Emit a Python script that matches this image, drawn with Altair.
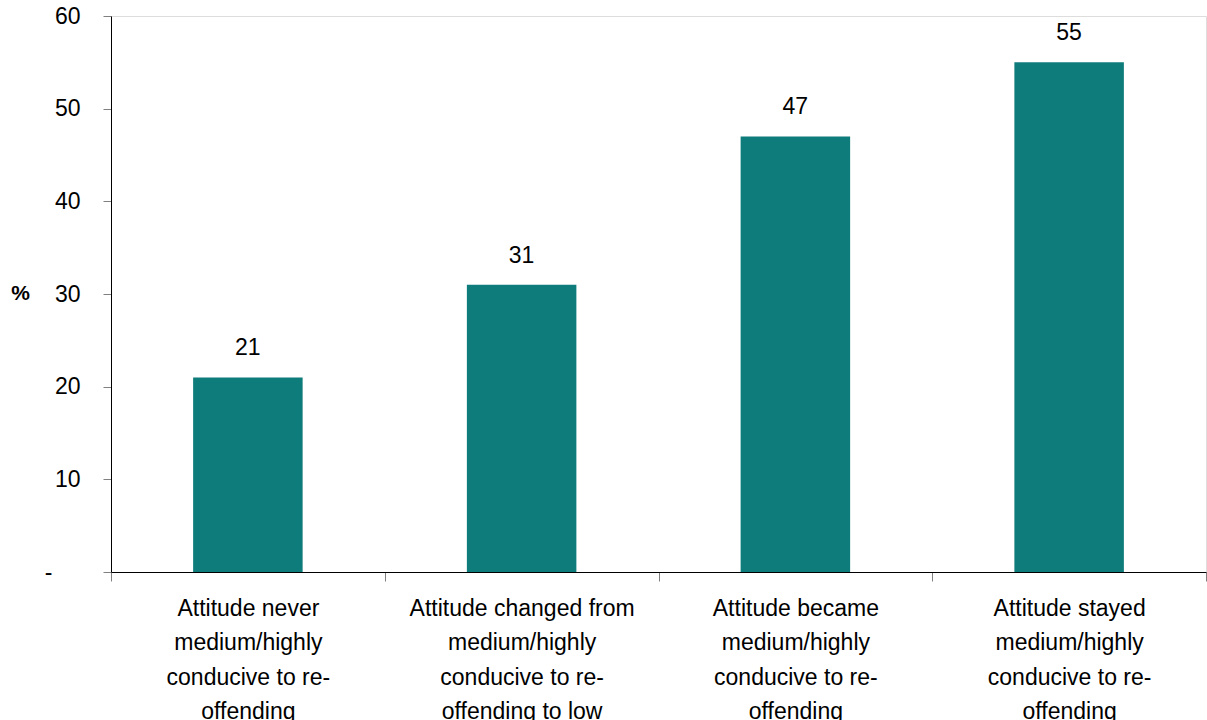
import altair as alt
import pandas as pd

# Category labels, one entry per wrapped line
label_lines = [
    ["Attitude never", "medium/highly", "conducive to re-", "offending"],
    ["Attitude changed from", "medium/highly", "conducive to re-", "offending to low"],
    ["Attitude became", "medium/highly", "conducive to re-", "offending"],
    ["Attitude stayed", "medium/highly", "conducive to re-", "offending"],
]
categories = ["|".join(lines) for lines in label_lines]
values = [21, 31, 47, 55]
y_ticks = [0, 10, 20, 30, 40, 50, 60]

df = pd.DataFrame({"group": categories, "pct": values})

FONT = "Liberation Sans"
TEAL = "#0E7C7B"

x_enc = alt.X(
    "group:N",
    sort=categories,
    scale=alt.Scale(paddingInner=0, paddingOuter=0),
    axis=alt.Axis(
        title=None,
        labelAngle=0,
        labelExpr="split(datum.label, '|')",
        labelFontSize=23,
        labelLineHeight=34.5,
        labelFont=FONT,
        labelColor="black",
        labelPadding=16,
        labelLimit=400,
        tickBand="extent",
        tickSize=9,
        tickColor="#808080",
        domainColor="black",
        grid=False,
    ),
)

y_enc = alt.Y(
    "pct:Q",
    scale=alt.Scale(domain=[0, 60], nice=False),
    axis=alt.Axis(
        title="%",
        titleAngle=0,
        titleFont=FONT,
        titleFontSize=21,
        titleFontWeight="bold",
        titleColor="black",
        titleX=-91,
        titleY=277,
        titleAlign="center",
        titleBaseline="middle",
        values=y_ticks,
        labelExpr="datum.value == 0 ? '-' : datum.label",
        labelFontSize=23,
        labelFont=FONT,
        labelColor="black",
        labelPadding={"condition": {"test": "datum.value === 0", "value": 51}, "value": 23},
        tickSize=8,
        tickColor="#808080",
        domainColor="black",
        grid=False,
    ),
)

base = alt.Chart(df).encode(x=x_enc, y=y_enc)

bars = base.mark_bar(color=TEAL, width=alt.RelativeBandSize(0.4))
text = base.mark_text(
    baseline="middle", dy=-29, fontSize=23, font=FONT, color="black"
).encode(text="pct:Q")

chart = (
    (bars + text)
    .properties(
        width=1095,
        height=556,
        autosize=alt.AutoSizeParams(type="none"),
        padding={"left": 111, "top": 16, "right": 1, "bottom": 150},
    )
    .configure_view(stroke=None)
    .configure(background="white")
)

chart.save("out.html", embed_options={"renderer": "svg", "actions": False})
